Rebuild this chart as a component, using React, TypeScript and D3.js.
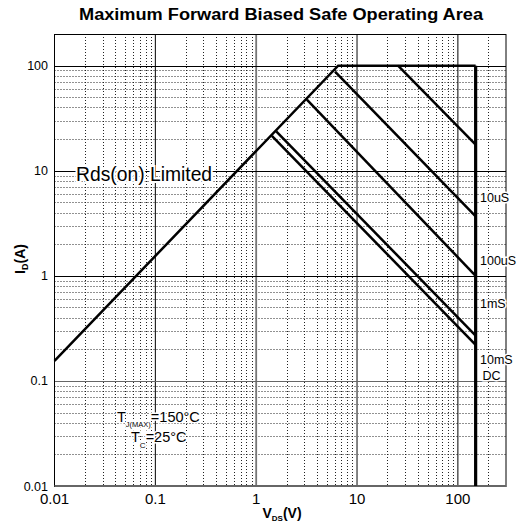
import * as d3 from "d3";

// axis ticks (decades)
const xTicks = [0.01, 0.1, 1, 10, 100];
const yTicks = [0.01, 0.1, 1, 10, 100];
const xTickLabels = ["0.01", "0.1", "1", "10", "100"];
const yTickLabels = ["0.01", "0.1", "1", "10", "100"];

// outer boundary: Rds(on) limit -> 100A current limit -> 150V voltage limit
const boundaryV = [0.01, 6.5, 150, 150];
const boundaryI = [0.155, 100, 100, 0.01];

// pulse width lines, start point on boundary, end at V = 150
const pulseNames = ["10uS", "100uS", "1mS", "10mS", "DC"];
const pulseStartV = [25.5, 6.05, 3.18, 1.58, 1.43];
const pulseStartI = [100, 87.7, 47.4, 23.7, 21.5];
const pulseEndV = [150, 150, 150, 150, 150];
const pulseEndI = [17.7, 3.67, 1.0, 0.27, 0.22];
// where the names sit on the right (current value)
const pulseLabelI = [5.6, 1.4, 0.54, 0.16, 0.112];

const W = 518;
const H = 531;
const left = 54.5;
const right = 506;
const top = 34;
const bottom = 486;

export default function App() {
  const x = d3.scaleLog().domain([0.01, 300]).range([left, right]);
  const y = d3.scaleLog().domain([0.01, 200]).range([bottom, top]);

  const minorX: number[] = [];
  const minorY: number[] = [];
  for (let e = -2; e <= 2; e++) {
    for (let m = 2; m <= 9; m++) {
      const v = m * Math.pow(10, e);
      if (v < 300) minorX.push(v);
      if (v < 200) minorY.push(v);
    }
  }

  const line = d3
    .line<[number, number]>()
    .x((d) => x(d[0]))
    .y((d) => y(d[1]));

  const boundary: [number, number][] = boundaryV.map((v, i) => [v, boundaryI[i]]);
  const px = (v: number) => Math.round(x(v)) + 0.5;
  const py = (v: number) => Math.round(y(v)) + 0.5;

  return (
    <svg
      width={W}
      height={H}
      style={{ position: "absolute", left: 0, top: 0, background: "#fff" }}
      fontFamily="'Liberation Sans', Arial, sans-serif"
    >
      <rect width={W} height={H} fill="#fff" />
      <text x={79} y={20} fontSize={16} fontWeight="bold" textLength={404} lengthAdjust="spacingAndGlyphs">
        Maximum Forward Biased Safe Operating Area
      </text>

      {/* minor grid */}
      {minorX.map((v) => (
        <line key={"mx" + v} x1={px(v)} x2={px(v)} y1={top} y2={bottom} stroke="#222" strokeWidth={1} strokeDasharray="1,2" />
      ))}
      {minorY.map((v) => (
        <line key={"my" + v} x1={left} x2={right} y1={py(v)} y2={py(v)} stroke="#222" strokeWidth={1} strokeDasharray="1,2" />
      ))}

      {/* major grid */}
      {xTicks.map((v) => (
        <line
          key={"Mx" + v}
          x1={x(v)}
          x2={x(v)}
          y1={top}
          y2={bottom}
          stroke={v === 1 || v === 10 ? "#777" : "#000"}
          strokeWidth={v === 1 || v === 10 ? 1.8 : 1}
        />
      ))}
      {yTicks.map((v) => (
        <line key={"My" + v} x1={left} x2={right} y1={py(v)} y2={py(v)} stroke={v === 0.1 ? "#666" : "#000"} strokeWidth={1} />
      ))}

      <rect x={left} y={top + 0.5} width={right - left} height={bottom - top} fill="none" stroke="#000" strokeWidth={1} />
      <line x1={left} x2={right} y1={bottom} y2={bottom} stroke="#666" strokeWidth={2} />

      {/* annotations */}
      <text x={76} y={180.5} fontSize={19.3} stroke="#fff" strokeWidth={4} paintOrder="stroke">
        Rds(on) Limited
      </text>
      <g fontSize={14.5} stroke="#fff" strokeWidth={3} paintOrder="stroke">
        <text x={117} y={422}>
          T
          <tspan fontSize={7.5} dy={5}>J(MAX)</tspan>
          <tspan dy={-5}>=150°C</tspan>
        </text>
        <text x={131} y={442}>
          T
          <tspan fontSize={8} dy={6}>C</tspan>
          <tspan dy={-6}>=25°C</tspan>
        </text>
      </g>

      {/* SOA boundary */}
      <path d={line(boundary.slice(0, 3)) || ""} fill="none" stroke="#000" strokeWidth={2.5} />
      <line x1={x(boundaryV[2])} x2={x(boundaryV[3])} y1={y(boundaryI[2])} y2={y(boundaryI[3])} stroke="#000" strokeWidth={3.2} />

      {/* pulse lines */}
      {pulseNames.map((n, i) => (
        <path
          key={n}
          d={line([[pulseStartV[i], pulseStartI[i]], [pulseEndV[i], pulseEndI[i]]]) || ""}
          fill="none"
          stroke="#000"
          strokeWidth={2.5}
        />
      ))}
      <g fontSize={12.5} stroke="#fff" strokeWidth={3} paintOrder="stroke">
        {pulseNames.map((n, i) => (
          <text key={"l" + n} x={n === "DC" ? 482.5 : 480} y={y(pulseLabelI[i]) + 4.5}>
            {n}
          </text>
        ))}
      </g>

      {/* tick labels */}
      {yTicks.map((v, i) => (
        <text key={"yt" + v} x={48} y={y(v) + 4.5} textAnchor="end" fontSize={12.5}>
          {yTickLabels[i]}
        </text>
      ))}
      {xTicks.map((v, i) => (
        <text key={"xt" + v} x={x(v)} y={503.5} textAnchor="middle" fontSize={15}>
          {xTickLabels[i]}
        </text>
      ))}

      {/* axis titles */}
      <text x={282} y={518} textAnchor="middle" fontSize={14} fontWeight="bold">
        V<tspan fontSize={8} dy={3}>DS</tspan>
        <tspan dy={-3}>(V)</tspan>
      </text>
      <text transform="translate(25,259) rotate(-90)" textAnchor="middle" fontSize={14} fontWeight="bold">
        I<tspan fontSize={9} dy={3}>D</tspan>
        <tspan dy={-3}>(A)</tspan>
      </text>
    </svg>
  );
}
